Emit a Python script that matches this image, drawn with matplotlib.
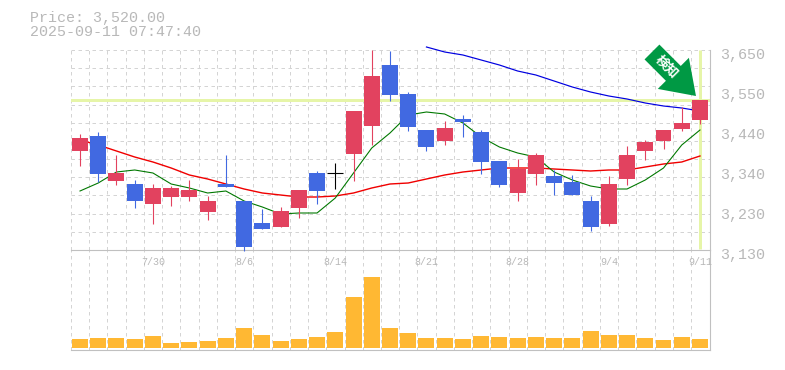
import numpy as np
import matplotlib
matplotlib.use("Agg")
import matplotlib.pyplot as plt
from matplotlib.patches import FancyArrow
from matplotlib.transforms import Affine2D, ScaledTranslation

title_price = "Price: 3,520.00"
title_time = "2025-09-11 07:47:40"
date_labels = ["7/30", "8/6", "8/14", "8/21", "8/28", "9/4", "9/11"]
date_index = [4, 9, 14, 19, 24, 29, 34]
price_ticks = [3130, 3234, 3338, 3442, 3546, 3650]
price_tick_labels = ["3,130", "3,230", "3,340", "3,440", "3,550", "3,650"]
last_price = 3520.0
badge_text = "検知"

opens = [3387.4,3426.4,3309.4,3301.6,3249.6,3267.8,3267.8,3228.8,3301.6,3257.4,3200.2,3189.8,3239.2,3330.2,3330.2,3379.6,3452.4,3611,3535.6,3442,3413.4,3470.6,3436.8,3361.4,3278.2,3327.6,3322.4,3306.8,3257.4,3197.6,3314.6,3387.4,3413.4,3444.6,3468]
closes = [3421.2,3327.6,3330.2,3257.4,3291.2,3291.2,3286,3257.4,3293.8,3137.8,3184.6,3231.4,3286,3283.4,3330.2,3491.4,3582.4,3533,3449.8,3397.8,3447.2,3462.8,3358.8,3299,3340.6,3377,3304.2,3273,3189.8,3301.6,3377,3410.8,3442,3460.2,3520]
highs = [3431.6,3436.8,3377,3312,3301.6,3296.4,3312,3270.4,3377,3257.4,3236.6,3241.8,3286,3335.4,3356.2,3491.4,3650,3647.4,3540.8,3442,3465.4,3481,3442,3361.4,3366.6,3382.2,3338,3325,3270.4,3322.4,3400.4,3416,3442,3501.8,3520]
lows = [3348.4,3306.8,3299,3239.2,3197.6,3244.4,3257.4,3208,3293.8,3127.4,3184.6,3189.8,3213.2,3249.6,3288.6,3309.4,3403,3517.4,3439.4,3387.4,3403,3423.8,3327.6,3293.8,3257.4,3299,3273,3273,3179.4,3192.4,3299,3364,3392.6,3439.4,3457.6]
ma_short = [3283.4,3304.2,3332.8,3338,3330.2,3301.6,3291.2,3278.2,3283.4,3257.4,3241.8,3223.6,3226.2,3226.2,3265.2,3330.2,3395.2,3434.2,3481,3488.8,3483.6,3460.2,3423.8,3397.8,3382.2,3371.8,3332.8,3312,3296.4,3288.6,3288.6,3312,3343.2,3403,3442]
ma_mid = [3416,3403,3387.4,3371.8,3358.8,3343.2,3325,3314.6,3301.6,3288.6,3278.2,3273,3267.8,3267.8,3270.4,3278.2,3291.2,3301.6,3304.2,3314.6,3325,3332.8,3338,3343.2,3343.2,3343.2,3340.6,3338,3335.4,3338,3338,3345.8,3353.6,3358.8,3374.4]
ma_long = [np.nan]*19 + [3657.8,3644.8,3637,3624,3611,3595.4,3585,3569.4,3553.8,3540.8,3530.4,3522.6,3512.2,3504.4,3499.2,3491.4]
volumes = [9,10,10,9,12,5,6,7,10,20,13,7,9,11,16,51,71,20,15,10,10,9,12,11,10,11,10,10,17,13,13,10,8,11,9]

RED, BLUE, GREEN_MA = "#e2425f", "#4169e1", "#007800"
GREY, GRID, PALE = "#b8b8b8", "#d4d4d4", "#e6f5a8"
W, H = 785, 370
px = 0.72

plt.rcParams["font.family"] = ["Liberation Mono", "DejaVu Sans Mono"]
fig = plt.figure(figsize=(W/100, H/100), dpi=100)
ax_vol = fig.add_axes([71/W, (H-350)/H, 639/W, 100/H], zorder=1)
ax = fig.add_axes([71/W, (H-250)/H, 639/W, 200/H], zorder=2)
ax.patch.set_alpha(0)
xs = np.arange(len(closes))
xlim = (-0.4935, 34.55)
BW = 0.877

# price panel
ax.set_xlim(*xlim)
ax.set_ylim(3130, 3650)
ax.set_yticks(price_ticks, price_tick_labels)
ax.set_xticks(date_index, date_labels)
ax.yaxis.tick_right()
ax.tick_params(axis="y", length=0, pad=7, labelsize=10.8, colors=GREY)
ax.tick_params(axis="x", length=0, pad=5, labelsize=7.2, colors=GREY)
for lab in ax.get_yticklabels():
    lab.set_transform(lab.get_transform() + ScaledTranslation(0, -3/100, fig.dpi_scale_trans))
for lab in ax.get_xticklabels():
    lab.set_clip_on(False)
for s in ("top", "left"):
    ax.spines[s].set_visible(False)
for s in ("right", "bottom"):
    ax.spines[s].set_color("#c0c0c0")
    ax.spines[s].set_linewidth(1.1*px)

grid_y = np.linspace(3130, 3650, 12)
grid_x = np.arange(0, 36) - 0.4935
grid_style = dict(color=GRID, lw=1*px, dashes=(3.5, 3.5), zorder=0.5)
for g in grid_y[1:]:
    ax.axhline(g, **grid_style)
for a in (ax, ax_vol):
    for g in grid_x[:-1]:
        a.axvline(g, **grid_style)

ax.axhline(last_price, color=PALE, lw=3*px, zorder=1)
ax.plot([xs[-1], xs[-1]], [3133, 3650], color=PALE, lw=3*px, zorder=1, solid_capstyle="butt")

ax.plot(xs, ma_long, color="#0000e0", lw=1.2*px, zorder=2, clip_on=False)
ax.plot(xs, ma_mid, color="#f00000", lw=1.4*px, zorder=2)
ax.plot(xs, ma_short, color=GREEN_MA, lw=1.1*px, zorder=2)

o, c = np.array(opens), np.array(closes)
colors = [RED if b > a else BLUE if b < a else "#000000" for a, b in zip(o, c)]
ax.vlines(xs, lows, highs, colors=colors, lw=1.1*px, zorder=3, clip_on=False)
ax.bar(xs, np.abs(c-o), BW, bottom=np.minimum(o, c), color=colors, zorder=4, linewidth=0, antialiased=False)
flat = o == c
ax.hlines(c[flat], xs[flat]-BW/2, xs[flat]+BW/2, colors="#000000", lw=1.1*px, zorder=4)

# arrow badge pinned to the last candle
tx, ty = ax.transData.transform((xs[-1], last_price))
badge = Affine2D().translate(tx-4, ty+4)
ax.add_patch(FancyArrow(-44, 44, 44, -44, width=21, head_width=44, head_length=32,
                        length_includes_head=True, color="#009944", lw=0,
                        transform=badge, zorder=6, clip_on=False))
ax.text(-29, 29, badge_text, transform=badge, rotation=-45, rotation_mode="anchor",
        ha="center", va="center", color="white", fontsize=9.5, fontweight="bold",
        family=["Noto Sans CJK JP"], zorder=7, clip_on=False)

# volume panel
ax_vol.set_xlim(*xlim)
ax_vol.set_ylim(-2, 98)
ax_vol.bar(xs, volumes, BW, color="#ffb833", zorder=2, linewidth=0, antialiased=False)
ax_vol.set_xticks([]); ax_vol.set_yticks([])
ax_vol.spines["top"].set_visible(False)
ax_vol.spines["left"].set_visible(False)
for s in ("right", "bottom"):
    ax_vol.spines[s].set_color("#c0c0c0")
    ax_vol.spines[s].set_linewidth(1.1*px)

fig.text(30/W, 1-18/H, title_price, color=GREY, fontsize=10.8, va="center", ha="left")
fig.text(30/W, 1-32.5/H, title_time, color=GREY, fontsize=10.8, va="center", ha="left")
fig.savefig("out.png", dpi=100)
